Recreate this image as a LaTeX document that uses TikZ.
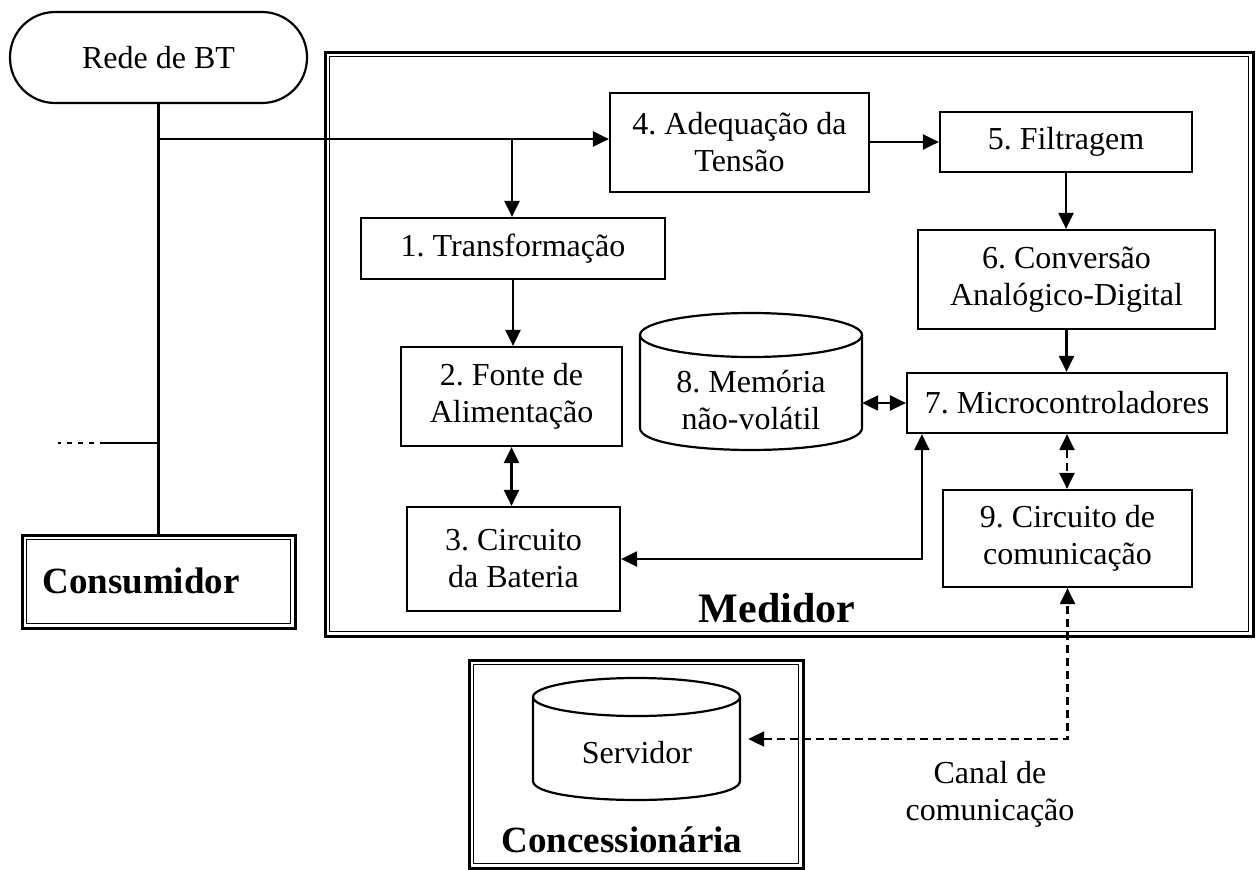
\documentclass[tikz,border=0pt]{standalone}
\usepackage{fontspec}
\setmainfont{Liberation Serif}
\usetikzlibrary{arrows.meta,calc}
\frenchspacing
\begin{document}
\begin{tikzpicture}[x=1pt,y=-1pt,
  >={Triangle[length=16pt,width=15pt]},
  txt/.style={font=\fontsize{32}{37}\selectfont, align=center, inner sep=0pt},
  box/.style={txt, draw, line width=2.2pt},
  frame/.style={draw, line width=3pt, inner sep=0pt},
  innerframe/.style={line width=1.6pt},
  conn/.style={line width=2.2pt},
  dconn/.style={line width=2.2pt, dash pattern=on 8pt off 5pt},
  bigbold/.style={font=\fontsize{37}{40}\selectfont\bfseries, inner sep=0pt},
  medbold/.style={font=\fontsize{42}{44}\selectfont\bfseries, inner sep=0pt},
  cyl/.style={line width=2.2pt}
]
\useasboundingbox (0,0) rectangle (1256,870);

% outer frames
\node[frame, minimum width=928pt, minimum height=584pt] (med) at (789,344) {};
\draw[innerframe] ([shift={(6,6)}]med.north west) rectangle ([shift={(-6,-6)}]med.south east);
\node[frame, minimum width=273pt, minimum height=93pt] (cons) at (158.5,581.5) {};
\draw[innerframe] ([shift={(6,6)}]cons.north west) rectangle ([shift={(-6,-6)}]cons.south east);
\node[frame, minimum width=334pt, minimum height=208pt] (conc) at (636,764) {};
\draw[innerframe] ([shift={(6,6)}]conc.north west) rectangle ([shift={(-6,-6)}]conc.south east);

% labels of frames
\node[medbold, anchor=base] (medl) at (777,622) {Medidor};
\node[bigbold, anchor=base] (consl) at (141,593) {Consumidor};
\node[bigbold, anchor=base] (concl) at (622,852) {Concessionária};

% Rede de BT
\node[box, rounded corners=45pt, minimum width=297pt, minimum height=91pt] (rede) at (158.5,57.5) {Rede de BT};

% blocks
\node[box, minimum width=259pt, minimum height=99pt] (b4) at (739.5,142.5) {4. Adequação da\\Tensão};
\node[box, minimum width=252pt, minimum height=60pt] (b5) at (1066,142) {5. Filtragem};
\node[box, minimum width=297pt, minimum height=99pt] (b6) at (1066.5,279.5) {6. Conversão\\Analógico-Digital};
\node[box, minimum width=304pt, minimum height=61pt] (b1) at (513,248.5) {1. Transformação};
\node[box, minimum width=221pt, minimum height=99pt] (b2) at (511.5,396.5) {2. Fonte de\\Alimentação};
\node[box, minimum width=213pt, minimum height=104pt] (b3) at (513.5,559) {3. Circuito\\da Bateria};
\node[box, minimum width=320pt, minimum height=60pt] (b7) at (1067,403) {7. Microcontroladores};
\node[box, minimum width=249pt, minimum height=97pt] (b9) at (1067.5,538.5) {9. Circuito de\\comunicação};

% memory cylinder
\node[inner sep=0pt, minimum width=222pt, minimum height=137pt] (mem) at (751,381.5) {};
\draw[cyl] (751,335) ellipse [x radius=111, y radius=22];
\draw[cyl] (640,335) -- (640,428) .. controls (640,457.3) and (862,457.3) .. (862,428) -- (862,335);
\node[txt] (memt) at (751,400) {8. Memória\\não-volátil};

% server cylinder
\node[inner sep=0pt, minimum width=207pt, minimum height=122pt] (serv) at (636.5,739) {};
\draw[cyl] (636.5,697) ellipse [x radius=103.5, y radius=19];
\draw[cyl] (533,697) -- (533,781) .. controls (533,806.3) and (740,806.3) .. (740,781) -- (740,697);
\node[txt] (servt) at (637,753) {Servidor};

% canal label
\node[txt] (canal) at (990,794) {Canal de\\comunicação};

% connectors
\coordinate (J) at (158.5,139);
\coordinate (K) at (512,139);
\draw[conn] (rede.south) -- (cons.north);
\draw[conn,->] (J) -- (J -| b4.west);
\draw[conn,->] (K) -- (K |- b1.north);
\draw[conn,->] (b5.west -| b4.east) -- (b5.west);
\draw[conn,->] (b5.south) -- (b5.south |- b6.north);
\draw[conn,->] (b1.south) -- (b1.south |- b2.north);
\draw[conn,<->] (b2.south) -- (b2.south |- b3.north);
\draw[conn,->] (b6.south) -- (b6.south |- b7.north);
\draw[conn,<->] (b7.west -| mem.east) -- (b7.west);
\draw[conn,<->] (b3.east) -| ([xshift=16pt]b7.south west);
\draw[dconn,<->] (b7.south) -- (b7.south |- b9.north);
\draw[dconn,<->] ([xshift=8pt]serv.east) -| (b9.south);

% dashed stub on consumer line
\coordinate (S) at (158.5,443);
\coordinate (S1) at (105,443);
\coordinate (S2) at (58,443);
\draw[conn] (S) -- (S1);
\draw[conn, dash pattern=on 5pt off 6pt] (S1) -- (S2);
\end{tikzpicture}
\end{document}
